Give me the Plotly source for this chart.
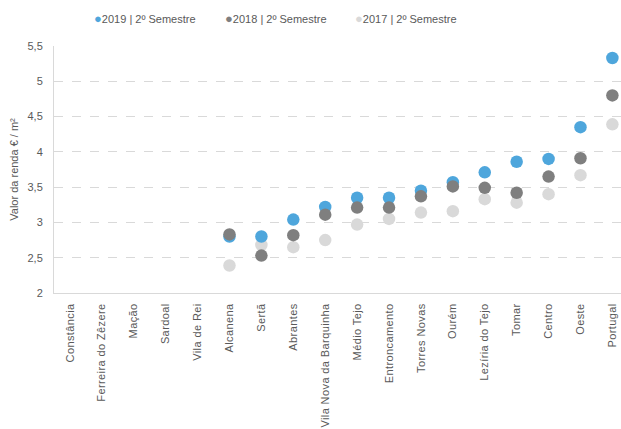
import plotly.graph_objects as go

categories = ["Constância", "Ferreira do Zêzere", "Mação", "Sardoal", "Vila de Rei",
              "Alcanena", "Sertã", "Abrantes", "Vila Nova da Barquinha", "Médio Tejo",
              "Entroncamento", "Torres Novas", "Ourém", "Lezíria do Tejo", "Tomar",
              "Centro", "Oeste", "Portugal"]
s2019 = [None, None, None, None, None, 2.80, 2.80, 3.04, 3.22, 3.35, 3.35, 3.45, 3.57, 3.71, 3.86, 3.90, 4.35, 5.33]
s2018 = [None, None, None, None, None, 2.83, 2.53, 2.82, 3.11, 3.21, 3.21, 3.37, 3.51, 3.49, 3.42, 3.65, 3.91, 4.80]
s2017 = [None, None, None, None, None, 2.39, 2.68, 2.65, 2.75, 2.97, 3.05, 3.14, 3.16, 3.33, 3.28, 3.40, 3.67, 4.39]
series_names = ["2019 | 2º Semestre", "2018 | 2º Semestre", "2017 | 2º Semestre"]
colors = ["#4EA6DC", "#7F7F7F", "#D9D9D9"]
y_ticks = [2, 2.5, 3, 3.5, 4, 4.5, 5, 5.5]
y_tick_text = ["2", "2,5", "3", "3,5", "4", "4,5", "5", "5,5"]

fig = go.Figure()
for vals, name, col in [(s2017, series_names[2], colors[2]),
                        (s2019, series_names[0], colors[0]),
                        (s2018, series_names[1], colors[1])]:
    fig.add_trace(go.Scatter(x=list(range(len(categories))), y=vals, mode="markers", name=name,
                             marker=dict(color=col, size=12.5, line=dict(width=0)),
                             showlegend=False, hoverinfo="x+y"))

L, W, T, B = 54, 567, 46, 136
H = 429 - T - B
def px(x):
    return (x - L) / W

annots = []
for name, col, xpos in zip(series_names, colors, [92, 223, 353]):
    annots.append(dict(x=px(xpos), y=1 + (T - 18) / H, xref="paper", yref="paper",
                       xanchor="left", yanchor="middle", showarrow=False,
                       text=f"<span style='color:{col};font-size:13px'>●</span>{name}",
                       font=dict(family="Liberation Sans, Arial", size=11, color="#595959")))

fig.update_layout(
    width=621, height=429,
    margin=dict(l=L, r=0, t=T, b=B, autoexpand=False),
    paper_bgcolor="white", plot_bgcolor="white",
    showlegend=False,
    annotations=annots,
    font=dict(family="Liberation Sans, Arial", size=11, color="#595959"),
    xaxis=dict(range=[-0.5, 17.27], tickmode="array", tickvals=list(range(len(categories))),
               ticktext=categories, tickangle=-90, showgrid=False, zeroline=False,
               showline=True, linecolor="#D9D9D9", linewidth=1, ticks="",
               automargin=False, ticklabelstandoff=5,
               tickfont=dict(size=11, color="#595959")),
    yaxis=dict(range=[2, 5.5], tickmode="array", tickvals=y_ticks, ticktext=y_tick_text,
               showgrid=True, gridcolor="#D9D9D9", griddash="dash", gridwidth=1,
               zeroline=False, showline=True, linecolor="#D9D9D9", linewidth=1, ticks="",
               ticklabelstandoff=8, automargin=False,
               title=dict(text="Valor da renda € / m²", standoff=6,
                          font=dict(size=11, color="#595959")),
               tickfont=dict(size=11, color="#595959")),
)

post = ("document.body.style.margin='0';document.body.style.overflow='hidden';"
        "document.querySelectorAll('.xtick text').forEach(function(t){t.style.letterSpacing='0.4px';});")
fig.write_html("out.html", config={"displayModeBar": False}, post_script=post)
